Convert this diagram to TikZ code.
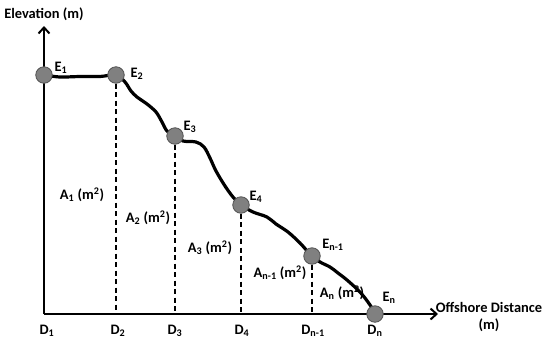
\documentclass[tikz,border=0pt]{standalone}
\usepackage{fontspec}
\setmainfont{Carlito}
\usetikzlibrary{arrows.meta}
\definecolor{dotfill}{HTML}{808080}
\definecolor{dotline}{HTML}{505050}
\tikzset{
  axis/.style={line width=2.8bp,-{Straight Barb[length=6bp,width=11bp,line width=2bp]}},
  profile/.style={line width=3.2bp,line cap=round,line join=round},
  drop/.style={line width=1.8bp,dash pattern=on 5bp off 3.5bp},
  dot/.style={circle,fill=dotfill,draw=dotline,line width=0.8bp,minimum size=16.5bp,inner sep=0pt},
  lbl/.style={font=\fontsize{14.5}{17}\selectfont\bfseries,inner sep=0pt},
}
\begin{document}
\begin{tikzpicture}[x=1bp,y=-1bp]
\useasboundingbox (0,0) rectangle (550,347);
% positions
\coordinate (p1) at (44,75);
\coordinate (p2) at (116,75);
\coordinate (p3) at (175,136);
\coordinate (p4) at (241,205);
\coordinate (p5) at (312,256);
\coordinate (p6) at (375,314);
\coordinate (o) at (44,314);
\coordinate (ytip) at (44,26);
\coordinate (xtip) at (438,314);
\coordinate (d2) at (116,314);
\coordinate (d3) at (175,314);
\coordinate (d4) at (241,314);
\coordinate (d5) at (312,314);
% axes
\draw[axis] (o) -- (ytip);
\draw[axis] (o) -- (xtip);
% profile
\draw[profile] plot[smooth,tension=0.55] coordinates {
 (p1) (60,77) (80,76.5) (100,76.5) (p2)
 (125,82) (131,91) (137,97) (147,104) (156,112) (162,122) (167,131) (p3)
 (183,141) (196,142) (204,147) (210,158) (216,171) (225,186) (233,197) (p4)
 (253,212) (267,217) (276,224) (288,232) (300,243) (308,252) (p5)
 (320,262) (330,267) (338,273) (347,280) (358,290) (365,298) (372,308) (p6)};
% dots
\node[dot] (e1) at (p1) {};
\node[dot] (e2) at (p2) {};
\node[dot] (e3) at (p3) {};
\node[dot] (e4) at (p4) {};
\node[dot] (e5) at (p5) {};
\node[dot] (e6) at (p6) {};
% drops
\draw[drop] (e2.south) -- (d2);
\draw[drop] (e3.south) -- (d3);
\draw[drop] (e4.south) -- (d4);
\draw[drop] (e5.south) -- (d5);
% labels
\node[lbl] (ylab) at (44,14) {Elevation (m)};
\node[lbl,align=center] (xlab) at (489,317) {Offshore Distance\\(m)};
\node[lbl] (le1) at (61,68) {E\textsubscript{1}};
\node[lbl] (le2) at (137,74) {E\textsubscript{2}};
\node[lbl] (le3) at (190,127) {E\textsubscript{3}};
\node[lbl] (le4) at (256,197) {E\textsubscript{4}};
\node[lbl] (le5) at (333,245) {E\textsubscript{n-1}};
\node[lbl] (le6) at (389,298) {E\textsubscript{n}};
\node[lbl] (ld1) at (47,331) {D\textsubscript{1}};
\node[lbl] (ld2) at (118,331) {D\textsubscript{2}};
\node[lbl] (ld3) at (175,331) {D\textsubscript{3}};
\node[lbl] (ld4) at (242,331) {D\textsubscript{4}};
\node[lbl] (ld5) at (313,331) {D\textsubscript{n-1}};
\node[lbl] (ld6) at (375,331) {D\textsubscript{n}};
\node[lbl] (la1) at (82,195) {A\textsubscript{1} (m\textsuperscript{2})};
\node[lbl] (la2) at (148,218) {A\textsubscript{2} (m\textsuperscript{2})};
\node[lbl] (la3) at (210,248) {A\textsubscript{3} (m\textsuperscript{2})};
\node[lbl] (la5) at (280,273) {A\textsubscript{n-1} (m\textsuperscript{2})};
\node[lbl] (la6) at (342,293) {A\textsubscript{n} (m\textsuperscript{2})};
\end{tikzpicture}
\end{document}
